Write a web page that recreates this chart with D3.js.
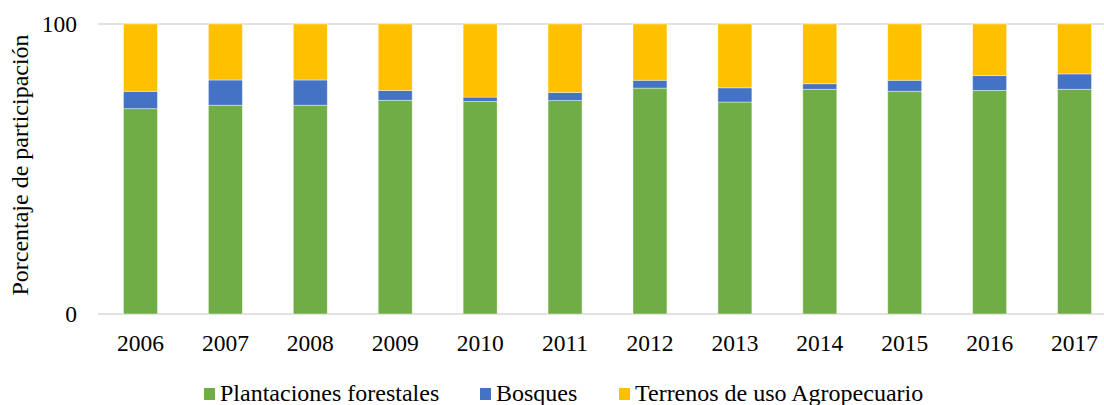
<!DOCTYPE html>
<meta charset="utf-8">
<script src="https://d3js.org/d3.v7.min.js"></script>
<style>
  body { margin: 0; background: #fff; }
</style>
<div id="my_dataviz"></div>
<script>

  // data (percent of total)
  var years = ["2006", "2007", "2008", "2009", "2010", "2011", "2012", "2013", "2014", "2015", "2016", "2017"];
  var plantaciones = [70.8, 72.0, 72.0, 73.7, 73.3, 73.6, 77.9, 73.1, 77.5, 76.8, 77.1, 77.5];
  var bosques = [6.0, 8.7, 8.7, 3.4, 1.5, 2.8, 2.7, 4.9, 1.9, 3.8, 5.1, 5.3];
  var terrenos = [23.2, 19.3, 19.3, 22.9, 25.2, 23.6, 19.4, 22.0, 20.6, 19.4, 17.8, 17.2];
  var seriesNames = ["Plantaciones forestales", "Bosques", "Terrenos de uso Agropecuario"];
  var colors = ["#70AD47", "#4472C4", "#FFC000"];
  var yTicks = [0, 100];

  var width = 1104, height = 405;
  var serif = "'Liberation Serif'";

  var svg = d3.select("#my_dataviz")
    .append("svg")
    .attr("width", width)
    .attr("height", height);

  var x = d3.scaleBand().domain(years).range([98, 1117]).paddingInner(0.6).paddingOuter(0.3),
    y = d3.scaleLinear().domain([0, 100]).range([314, 24]);

  // build table for the stack
  var table = years.map(function (yr, i) {
    return { year: yr, p: plantaciones[i], b: bosques[i], t: terrenos[i] };
  });
  var stacked = d3.stack().keys(["p", "b", "t"])(table);

  // gridlines at 0 and 100
  svg.append("g")
    .selectAll("line")
    .data(yTicks)
    .enter()
    .append("line")
    .attr("x1", 98)
    .attr("x2", 1117)
    .attr("y1", function (d) { return y(d); })
    .attr("y2", function (d) { return y(d); })
    .attr("stroke", "#d9d9d9")
    .attr("stroke-width", 1.5);

  // bars
  svg.append("g")
    .selectAll("g")
    .data(stacked)
    .enter()
    .append("g")
    .attr("fill", function (d, i) { return colors[i]; })
    .selectAll("rect")
    .data(function (d) { return d; })
    .enter()
    .append("rect")
    .attr("x", function (d) { return x(d.data.year); })
    .attr("y", function (d) { return y(d[1]); })
    .attr("height", function (d) { return y(d[0]) - y(d[1]); })
    .attr("width", x.bandwidth())
    .attr("stroke", "#ffffff")
    .attr("stroke-opacity", 0.5)
    .attr("stroke-width", 0.8);

  // X axis
  var xAxis = svg.append("g")
    .attr("transform", "translate(0," + 314 + ")")
    .call(d3.axisBottom(x).tickSize(0).tickPadding(20));
  xAxis.select(".domain").remove();
  xAxis.selectAll("text")
    .style("font-family", serif)
    .style("font-size", "23.5px")
    .attr("fill", "#000");

  // Y axis
  var yAxis = svg.append("g")
    .attr("transform", "translate(77,0)")
    .call(d3.axisLeft(y).tickValues(yTicks).tickSize(0).tickPadding(0));
  yAxis.select(".domain").remove();
  yAxis.selectAll("text")
    .style("font-family", serif)
    .style("font-size", "23.5px")
    .attr("fill", "#000");

  // Y label
  svg.append("text")
    .attr("transform", "translate(28,165) rotate(-90)")
    .attr("text-anchor", "middle")
    .style("font-family", serif)
    .style("font-size", "24px")
    .attr("fill", "#000")
    .text("Porcentaje de participación");

  // legend
  var legendX = [204, 480, 619];
  var legend = svg.append("g")
    .selectAll("g")
    .data(seriesNames)
    .enter()
    .append("g")
    .attr("transform", function (d, i) { return "translate(" + legendX[i] + ",0)"; });
  legend.append("rect")
    .attr("y", 388)
    .attr("width", 11)
    .attr("height", 12)
    .attr("fill", function (d, i) { return colors[i]; });
  legend.append("text")
    .attr("x", 16)
    .attr("y", 401)
    .style("font-family", serif)
    .style("font-size", "24px")
    .attr("fill", "#000")
    .text(function (d) { return d; });

</script>
